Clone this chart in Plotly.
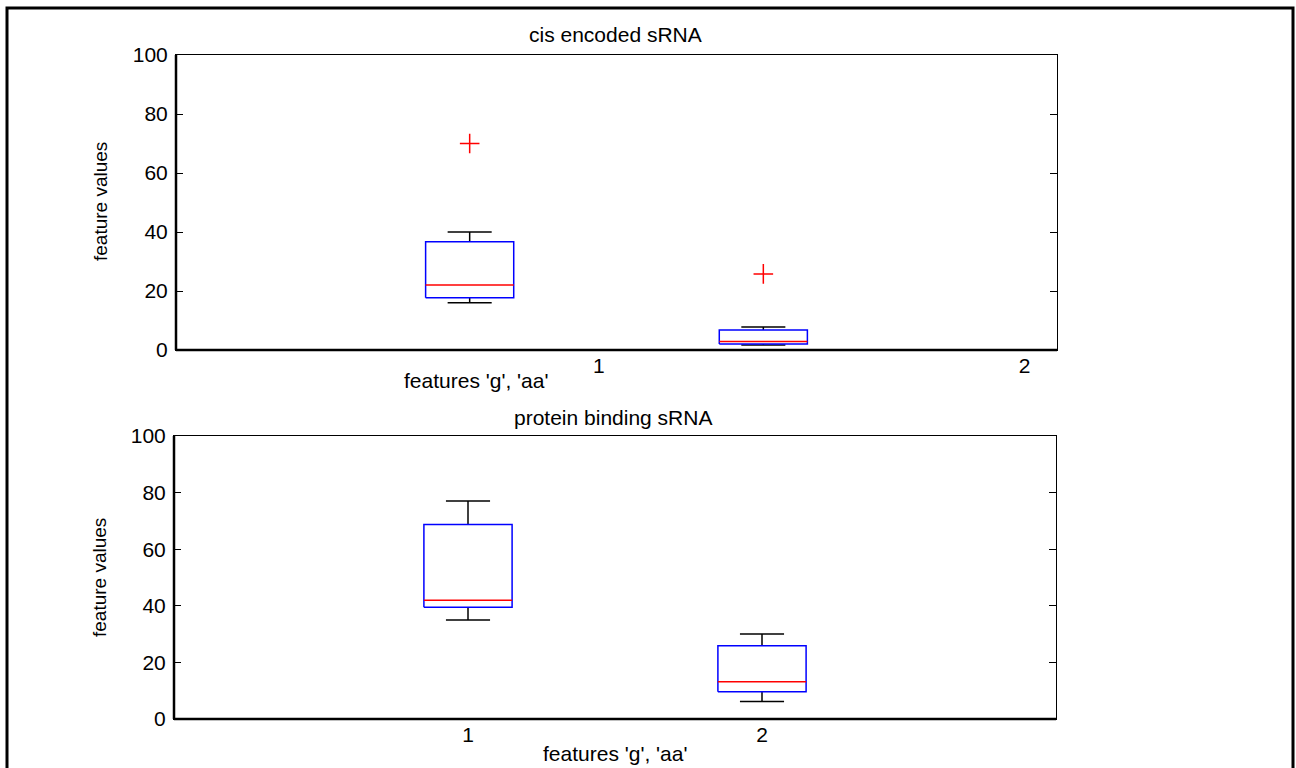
import plotly.graph_objects as go

# ---------------- data ----------------
positions = [1, 2]
tick_labels = ["1", "2"]

# cis encoded sRNA
cis_lower = [16.0, 1.7]
cis_q1 = [17.7, 2.0]
cis_median = [22.0, 2.9]
cis_q3 = [36.7, 6.8]
cis_upper = [40.0, 7.8]
cis_outliers = [70.0, 25.8]

# protein binding sRNA
pb_lower = [35.0, 6.2]
pb_q1 = [39.5, 9.6]
pb_median = [42.0, 13.2]
pb_q3 = [68.7, 25.9]
pb_upper = [77.0, 30.0]

y_ticks = [0, 20, 40, 60, 80, 100]

# ---------------- helpers ----------------
BOX_HALF = 0.15
CAP_HALF = 0.075
W, H = 1296, 768


def box_traces(lower, q1, med, q3, upper, xa, ya):
    bx, by, mx, my, wx, wy = [], [], [], [], [], []
    for p, lo, a, m, b, up in zip(positions, lower, q1, med, q3, upper):
        bx += [p - BOX_HALF, p + BOX_HALF, p + BOX_HALF, p - BOX_HALF, p - BOX_HALF, None]
        by += [a, a, b, b, a, None]
        mx += [p - BOX_HALF, p + BOX_HALF, None]
        my += [m, m, None]
        wx += [p, p, None, p - CAP_HALF, p + CAP_HALF, None,
               p, p, None, p - CAP_HALF, p + CAP_HALF, None]
        wy += [b, up, None, up, up, None, a, lo, None, lo, lo, None]
    common = dict(mode="lines", xaxis=xa, yaxis=ya, showlegend=False, hoverinfo="skip")
    return [
        go.Scatter(x=wx, y=wy, line=dict(color="black", width=1.5), **common),
        go.Scatter(x=bx, y=by, line=dict(color="#0000ff", width=1.5), **common),
        go.Scatter(x=mx, y=my, line=dict(color="#ff0000", width=1.5), **common),
    ]


fig = go.Figure()
for t in box_traces(cis_lower, cis_q1, cis_median, cis_q3, cis_upper, "x", "y"):
    fig.add_trace(t)
fig.add_trace(go.Scatter(x=positions, y=cis_outliers, mode="markers", xaxis="x", yaxis="y",
                         marker=dict(symbol="cross-thin-open", size=14, color="#ff0000",
                                     line=dict(color="#ff0000", width=1.5)),
                         showlegend=False, hoverinfo="skip"))
for t in box_traces(pb_lower, pb_q1, pb_median, pb_q3, pb_upper, "x2", "y2"):
    fig.add_trace(t)

FAMILY = "Liberation Sans, Arial, sans-serif"
FONT = dict(family=FAMILY, size=21, color="black")
YTFONT = dict(family=FAMILY, size=19, color="black")


def px(x):
    return x / W


def py(y):
    return 1 - y / H


yaxis_common = dict(range=[0, 100], tickvals=y_ticks, ticks="inside", ticklen=7,
                    tickcolor="black", showline=True, linecolor="black", linewidth=1,
                    mirror="ticks", showgrid=False, zeroline=False, tickfont=FONT,
                    automargin=False, ticklabelstandoff=3, fixedrange=True)
xaxis_common = dict(range=[0, 3], showline=True, linecolor="black", linewidth=1,
                    mirror=True, showgrid=False, zeroline=False, ticks="",
                    tickfont=FONT, automargin=False, ticklabelstandoff=-3,
                    fixedrange=True)

fig.update_layout(
    width=W, height=H,
    margin=dict(l=0, r=0, t=0, b=0, pad=0),
    paper_bgcolor="white", plot_bgcolor="white",
    font=FONT,
    xaxis=dict(domain=[px(176), px(1057)], anchor="y",
               tickvals=[1.44, 2.89], ticktext=tick_labels, **xaxis_common),
    yaxis=dict(domain=[py(350), py(55)], anchor="x", **yaxis_common),
    xaxis2=dict(domain=[px(174), px(1056)], anchor="y2",
                tickvals=positions, ticktext=tick_labels, **xaxis_common),
    yaxis2=dict(domain=[py(719), py(436)], anchor="x2", **yaxis_common),
)

# thicker left / bottom axis lines
for xr, yr in [("x domain", "y domain"), ("x2 domain", "y2 domain")]:
    fig.add_shape(type="line", xref=xr, yref=yr, x0=0, x1=1, y0=0, y1=0,
                  line=dict(color="black", width=2.5))
    fig.add_shape(type="line", xref=xr, yref=yr, x0=0, x1=0, y0=0, y1=1,
                  line=dict(color="black", width=2.5))

# outer figure border
fig.add_shape(type="rect", xref="paper", yref="paper",
              x0=px(7), x1=px(1293), y0=-0.05, y1=py(8),
              line=dict(color="black", width=3), layer="above")

ann = [
    ("cis encoded sRNA", 615, 35, 0, FONT),
    ("protein binding sRNA", 613, 417, 0, FONT),
    ("features 'g', 'aa'", 476, 380, 0, FONT),
    ("features 'g', 'aa'", 615, 753, 0, FONT),
    ("feature values", 101, 202, -90, YTFONT),
    ("feature values", 99, 578, -90, YTFONT),
]
for text, x, y, ang, f in ann:
    fig.add_annotation(text=text, xref="paper", yref="paper", x=px(x), y=py(y),
                       xanchor="center", yanchor="middle", showarrow=False,
                       textangle=ang, font=f)

fig.write_html("out.html", config={"displayModeBar": False},
               post_script="document.body.style.margin='0';document.body.style.overflow='hidden';")
